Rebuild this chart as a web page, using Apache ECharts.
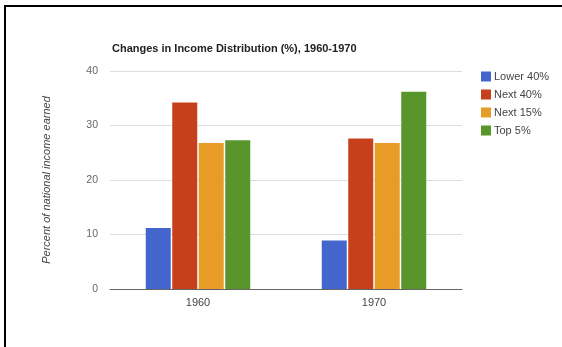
<!DOCTYPE html>
<html>
<head>
<meta charset="utf-8">
<script src="https://cdn.jsdelivr.net/npm/echarts@6/dist/echarts.min.js"></script>
<style>html,body{margin:0;padding:0;background:#fff;}#c{width:562px;height:347px;}</style>
</head>
<body>
<div id="c"></div>
<script>
const categories = ['1960', '1970'];
const seriesNames = ['Lower 40%', 'Next 40%', 'Next 15%', 'Top 5%'];
const lower40 = [11.2, 8.9];
const next40 = [34.2, 27.6];
const next15 = [26.8, 26.8];
const top5 = [27.3, 36.2];
const yTicks = [0, 10, 20, 30, 40];

const colors = ['#4466cc', '#c5401b', '#e89c28', '#58962b'];
const values = [lower40, next40, next15, top5];
const font = 'Liberation Sans, Arial, sans-serif';

const chart = echarts.init(document.getElementById('c'), null, {renderer: 'canvas'});
chart.setOption({
  animation: false,
  backgroundColor: '#fff',
  title: {
    text: 'Changes in Income Distribution (%), 1960-1970',
    left: 107, top: 38,
    textStyle: {fontFamily: font, fontSize: 11, fontWeight: 'bold', color: '#222'}
  },
  legend: {
    orient: 'vertical', left: 476, top: 66,
    itemWidth: 10, itemHeight: 10, itemGap: 7, icon: 'rect',
    data: seriesNames,
    textStyle: {fontFamily: font, fontSize: 11, color: '#444', padding: [0, 0, 0, -2]}
  },
  grid: {left: 110, right: 100, top: 71, bottom: 58},
  xAxis: {
    type: 'category', data: categories,
    axisTick: {show: false},
    axisLine: {lineStyle: {color: '#666', width: 1}},
    axisLabel: {fontFamily: font, fontSize: 11, color: '#444', margin: 8}
  },
  yAxis: {
    type: 'value', min: yTicks[0], max: yTicks[yTicks.length - 1], interval: 10,
    name: 'Percent of national income earned',
    nameLocation: 'middle', nameRotate: 90, nameGap: 58,
    nameTextStyle: {fontFamily: font, fontSize: 11, fontStyle: 'italic', color: '#444'},
    axisLine: {show: false}, axisTick: {show: false},
    axisLabel: {fontFamily: font, fontSize: 10.5, color: '#666', margin: 12},
    splitLine: {lineStyle: {color: '#ddd', width: 1}}
  },
  series: seriesNames.map((n, i) => ({
    name: n, type: 'bar', data: values[i], barWidth: 25, barGap: '6%',
    itemStyle: {color: colors[i]}
  })),
  graphic: [
    {type: 'rect', shape: {x: 4, y: 5, width: 558, height: 2}, style: {fill: '#000'}, z: 100},
    {type: 'rect', shape: {x: 4, y: 5, width: 2, height: 342}, style: {fill: '#000'}, z: 100}
  ]
});
</script>
</body>
</html>
